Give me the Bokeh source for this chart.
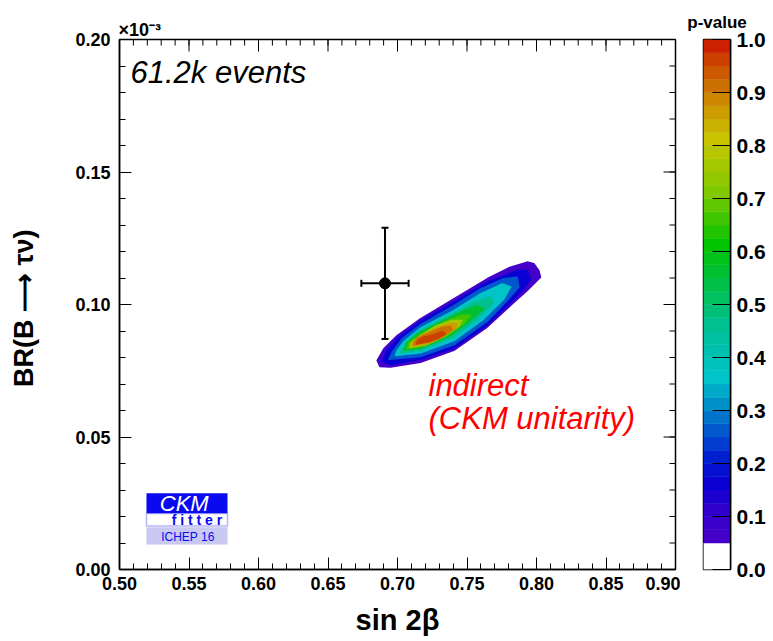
import numpy as np
from bokeh.plotting import figure
from bokeh.models import (ColumnDataSource, FixedTicker, Label, BoxAnnotation,
                          Whisker, TeeHead, NumeralTickFormatter, Range1d)
from bokeh.layouts import row
from bokeh.embed import file_html
from bokeh.resources import INLINE

# ---------------- data ----------------
x_ticks = [0.50, 0.55, 0.60, 0.65, 0.70, 0.75, 0.80, 0.85, 0.90]
x_tick_labels = ["0.50", "0.55", "0.60", "0.65", "0.70", "0.75", "0.80", "0.85", "0.90"]
y_ticks = [0.00, 0.05, 0.10, 0.15, 0.20]
y_tick_labels = ["0.00", "0.05", "0.10", "0.15", "0.20"]
cbar_ticks = [0.0, 0.1, 0.2, 0.3, 0.4, 0.5, 0.6, 0.7, 0.8, 0.9, 1.0]
cbar_tick_labels = ["0.0", "0.1", "0.2", "0.3", "0.4", "0.5", "0.6", "0.7", "0.8", "0.9", "1.0"]

# measurement (sin2beta, BR in units of 1e-3)
meas_sin2b = [0.691]
meas_sin2b_err = [0.017]
meas_br = [0.108]
meas_br_err = [0.021]

# p-value contours of the indirect fit (outer -> inner)
contour_levels = [0.05, 0.15, 0.25, 0.35, 0.45, 0.55, 0.65, 0.75, 0.85, 0.90, 0.95]
contour_x = [
    [0.6854, 0.6873, 0.6950, 0.7165, 0.7405, 0.7645, 0.7813, 0.7933, 0.8029, 0.8017, 0.7981,
     0.7933, 0.7897, 0.7813, 0.7645, 0.7405, 0.7165, 0.6998, 0.6902],
    [0.6890, 0.6950, 0.7165, 0.7405, 0.7645, 0.7813, 0.7909, 0.7957, 0.7933, 0.7861, 0.7645,
     0.7405, 0.7165, 0.7010, 0.6926],
    [0.6938, 0.7165, 0.7405, 0.7645, 0.7789, 0.7873, 0.7861, 0.7765, 0.7597, 0.7405, 0.7165,
     0.7034, 0.6962],
    [0.6986, 0.7165, 0.7405, 0.7621, 0.7765, 0.7813, 0.7753, 0.7597, 0.7405, 0.7165, 0.7046, 0.6998],
    [0.7022, 0.7165, 0.7405, 0.7573, 0.7693, 0.7669, 0.7549, 0.7405, 0.7165, 0.7058],
    [0.7046, 0.7165, 0.7381, 0.7525, 0.7621, 0.7573, 0.7453, 0.7309, 0.7141, 0.7070],
    [0.7070, 0.7189, 0.7357, 0.7477, 0.7525, 0.7453, 0.7333, 0.7165, 0.7082],
    [0.7089, 0.7201, 0.7333, 0.7441, 0.7465, 0.7393, 0.7285, 0.7165, 0.7098],
    [0.7106, 0.7213, 0.7321, 0.7417, 0.7429, 0.7369, 0.7273, 0.7177, 0.7113],
    [0.7118, 0.7225, 0.7321, 0.7393, 0.7381, 0.7309, 0.7213, 0.7141, 0.7122],
    [0.7137, 0.7225, 0.7297, 0.7345, 0.7321, 0.7261, 0.7189, 0.7146],
]
contour_y = [
    [0.0789, 0.0766, 0.0764, 0.0782, 0.0827, 0.0915, 0.0996, 0.1053, 0.1103, 0.1128, 0.1154,
     0.1160, 0.1154, 0.1141, 0.1097, 0.1021, 0.0946, 0.0883, 0.0833],
    [0.0785, 0.0774, 0.0793, 0.0835, 0.0923, 0.1009, 0.1059, 0.1097, 0.1128, 0.1128, 0.1084,
     0.1009, 0.0936, 0.0877, 0.0827],
    [0.0793, 0.0804, 0.0848, 0.0936, 0.1015, 0.1066, 0.1103, 0.1097, 0.1059, 0.0996, 0.0923,
     0.0871, 0.0820],
    [0.0808, 0.0818, 0.0864, 0.0946, 0.1021, 0.1066, 0.1078, 0.1040, 0.0977, 0.0911, 0.0860, 0.0827],
    [0.0818, 0.0827, 0.0877, 0.0946, 0.1009, 0.1028, 0.1009, 0.0965, 0.0902, 0.0855],
    [0.0827, 0.0835, 0.0883, 0.0940, 0.0984, 0.0996, 0.0971, 0.0933, 0.0889, 0.0855],
    [0.0833, 0.0843, 0.0883, 0.0927, 0.0959, 0.0959, 0.0933, 0.0883, 0.0855],
    [0.0838, 0.0848, 0.0881, 0.0918, 0.0940, 0.0940, 0.0921, 0.0883, 0.0855],
    [0.0843, 0.0852, 0.0877, 0.0911, 0.0927, 0.0927, 0.0908, 0.0883, 0.0858],
    [0.0848, 0.0858, 0.0879, 0.0906, 0.0918, 0.0911, 0.0889, 0.0873, 0.0858],
    [0.0852, 0.0860, 0.0873, 0.0889, 0.0898, 0.0885, 0.0877, 0.0864],
]

# ---------------- style ----------------
FONT = "Liberation Sans"
palette_anchors = [
    (0.05, "#4400c8"), (0.10, "#3000cc"), (0.15, "#0a00d4"), (0.20, "#0020d0"),
    (0.25, "#0058cc"), (0.30, "#0090c8"), (0.35, "#00c4c8"), (0.40, "#00c0b0"),
    (0.45, "#00c090"), (0.50, "#00c060"), (0.55, "#00c030"), (0.60, "#00c400"),
    (0.65, "#40c600"), (0.70, "#80c800"), (0.75, "#a4c800"), (0.80, "#c8c400"),
    (0.85, "#cc9c00"), (0.90, "#cc7000"), (0.95, "#cc4000"), (1.00, "#cc0000"),
]


def hex2rgb(h):
    return np.array([int(h[i:i + 2], 16) for i in (1, 3, 5)], dtype=float)


def color_at(v):
    lv = [a[0] for a in palette_anchors]
    cs = [hex2rgb(a[1]) for a in palette_anchors]
    if v <= lv[0]:
        c = cs[0]
    elif v >= lv[-1]:
        c = cs[-1]
    else:
        k = np.searchsorted(lv, v) - 1
        t = (v - lv[k]) / (lv[k + 1] - lv[k])
        c = cs[k] * (1 - t) + cs[k + 1] * t
    return "#%02x%02x%02x" % tuple(int(round(u)) for u in c)


def label(x, y, text, size, **kw):
    # Bokeh puts the alphabetic baseline about a third of the font size low
    return Label(x=x, y=y, text=text, text_font=FONT, text_font_size="%dpx" % size,
                 text_baseline="alphabetic", y_offset=round(0.33 * size), **kw)


# ---------------- main figure ----------------
p = figure(width=680, height=641, x_range=Range1d(0.5, 0.9), y_range=Range1d(0.0, 0.2),
           output_backend="svg", toolbar_location=None,
           min_border_left=119, min_border_right=5, min_border_top=39, min_border_bottom=72)
p.grid.visible = False
p.outline_line_color = "black"
p.outline_line_width = 1.5
p.background_fill_color = "white"
p.border_fill_color = "white"

x_minor = [round(v, 2) for v in np.arange(0.50, 0.9001, 0.01)]
y_minor = [round(v, 2) for v in np.arange(0.00, 0.2001, 0.01)]
xt = FixedTicker(ticks=x_ticks, minor_ticks=x_minor)
yt = FixedTicker(ticks=y_ticks, minor_ticks=y_minor)


def style_axis(ax):
    ax.major_tick_in = 12
    ax.major_tick_out = 0
    ax.minor_tick_in = 6
    ax.minor_tick_out = 0
    ax.major_tick_line_color = "black"
    ax.minor_tick_line_color = "black"
    ax.major_tick_line_width = 1
    ax.minor_tick_line_width = 1
    ax.axis_line_color = "black"
    ax.axis_line_width = 1.5
    ax.major_label_text_font = FONT
    ax.major_label_text_font_style = "bold"
    ax.major_label_text_font_size = "18px"
    ax.major_label_text_color = "black"
    ax.axis_label_text_font = FONT
    ax.axis_label_text_font_style = "bold"
    ax.axis_label_text_color = "black"


xa = p.xaxis[0]
xa.ticker = xt
xa.formatter = NumeralTickFormatter(format="0.00")
xa.major_label_overrides = {t: s for t, s in zip(x_ticks, x_tick_labels)}
style_axis(xa)
xa.major_label_standoff = 7
xa.axis_label = "sin 2β"
xa.axis_label_text_font_size = "29px"
xa.axis_label_standoff = 11

ya = p.yaxis[0]
ya.ticker = yt
ya.formatter = NumeralTickFormatter(format="0.00")
ya.major_label_overrides = {t: s for t, s in zip(y_ticks, y_tick_labels)}
style_axis(ya)
ya.major_label_standoff = 9
ya.axis_label = "BR(B  ⟶ τν)"
ya.axis_label_text_font_size = "27px"
ya.axis_label_standoff = 33

# tick marks on the top and right edges of the frame
p.ray(x=x_ticks, y=[0.2] * len(x_ticks), length=12, angle=-np.pi / 2,
      length_units="screen", line_color="black", line_width=1)
p.ray(x=x_minor, y=[0.2] * len(x_minor), length=6, angle=-np.pi / 2,
      length_units="screen", line_color="black", line_width=1)
p.ray(x=[0.9] * len(y_ticks), y=y_ticks, length=12, angle=np.pi,
      length_units="screen", line_color="black", line_width=1)
p.ray(x=[0.9] * len(y_minor), y=y_minor, length=6, angle=np.pi,
      length_units="screen", line_color="black", line_width=1)

# exponent of the y axis
p.title.text = "×10⁻³"
p.title.align = "left"
p.title.text_font = FONT
p.title.text_font_style = "bold"
p.title.text_color = "black"
p.title.text_font_size = "18px"
p.title.standoff = 0
p.title.offset = -1

# contours
csrc = ColumnDataSource(dict(xs=contour_x, ys=contour_y,
                             color=[color_at(l) for l in contour_levels]))
p.patches("xs", "ys", source=csrc, fill_color="color", line_color="color", line_width=1.5,
          line_join="round")

# measurement with error bars
msrc = ColumnDataSource(dict(
    x=meas_sin2b, y=meas_br,
    xl=[a - e for a, e in zip(meas_sin2b, meas_sin2b_err)],
    xu=[a + e for a, e in zip(meas_sin2b, meas_sin2b_err)],
    yl=[a - e for a, e in zip(meas_br, meas_br_err)],
    yu=[a + e for a, e in zip(meas_br, meas_br_err)],
))
for base, lo, up, dim in (("x", "yl", "yu", "height"), ("y", "xl", "xu", "width")):
    p.add_layout(Whisker(source=msrc, base=base, lower=lo, upper=up, dimension=dim,
                         line_color="black", line_width=2,
                         upper_head=TeeHead(size=7, line_width=2, line_color="black"),
                         lower_head=TeeHead(size=7, line_width=2, line_color="black")))
p.scatter("x", "y", source=msrc, size=11, color="black")

# texts
p.add_layout(label(0.5079, 0.1839, "61.2k events", 31, text_font_style="italic",
                   text_color="black"))
p.add_layout(label(0.7223, 0.0657, "indirect", 31, text_font_style="italic",
                   text_color="#ff0000"))
p.add_layout(label(0.7223, 0.0532, "(CKM unitarity)", 31, text_font_style="italic",
                   text_color="#ff0000"))

# CKMfitter logo
p.add_layout(BoxAnnotation(left=0.5194, right=0.5777, bottom=0.0211, top=0.0288,
                           fill_color="#0a0af0", fill_alpha=1, line_color=None))
p.add_layout(BoxAnnotation(left=0.5194, right=0.5777, bottom=0.0164, top=0.0211,
                           fill_color="white", fill_alpha=1, line_color="#0a0af0",
                           line_width=1.5))
p.add_layout(BoxAnnotation(left=0.5194, right=0.5777, bottom=0.0094, top=0.0159,
                           fill_color="#c8c8f0", fill_alpha=1, line_color=None))
p.add_layout(label(0.5290, 0.0224, "CKM", 22, text_font_style="italic", text_color="white"))
p.add_layout(label(0.5375, 0.0168, "f i t t e r", 14, text_font_style="bold",
                   text_color="#0a0af0"))
p.add_layout(label(0.5300, 0.0106, "ICHEP 16", 12, text_color="#0a0af0"))

# ---------------- colour bar ----------------
band_edges = [0.0] + [round(v, 3) for v in np.arange(0.05, 1.0001, 0.025)]
band_lo = band_edges[:-1]
band_hi = band_edges[1:]
band_col = ["white"] + [color_at(v) for v in band_lo[1:]]

c = figure(width=88, height=641, x_range=Range1d(0, 1), y_range=Range1d(0, 1),
           output_backend="svg", toolbar_location=None, y_axis_location="right",
           min_border_left=23, min_border_right=37, min_border_top=39, min_border_bottom=72)
c.grid.visible = False
c.xaxis.visible = False
c.outline_line_color = "black"
c.outline_line_width = 1.5
c.border_fill_color = "white"
c.quad(left=0, right=1, bottom=band_lo, top=band_hi, fill_color=band_col, line_color=band_col,
       line_width=0.5)
ca = c.yaxis[0]
ca.ticker = FixedTicker(ticks=cbar_ticks, minor_ticks=[])
ca.formatter = NumeralTickFormatter(format="0.0")
ca.major_label_overrides = {t: s for t, s in zip(cbar_ticks, cbar_tick_labels)}
ca.major_tick_in = 18
ca.major_tick_out = 0
ca.minor_tick_in = 0
ca.minor_tick_out = 0
ca.major_tick_line_color = "black"
ca.axis_line_color = "black"
ca.axis_line_width = 1.5
ca.major_label_standoff = 6
ca.major_label_text_font = FONT
ca.major_label_text_font_style = "bold"
ca.major_label_text_font_size = "21px"
ca.major_label_text_color = "black"
c.title.text = "p-value"
c.title.align = "center"
c.title.text_font = FONT
c.title.text_font_style = "bold"
c.title.text_color = "black"
c.title.text_font_size = "17px"
c.title.standoff = 15

layout = row(p, c)
open("out.html", "w").write(file_html(layout, INLINE))
